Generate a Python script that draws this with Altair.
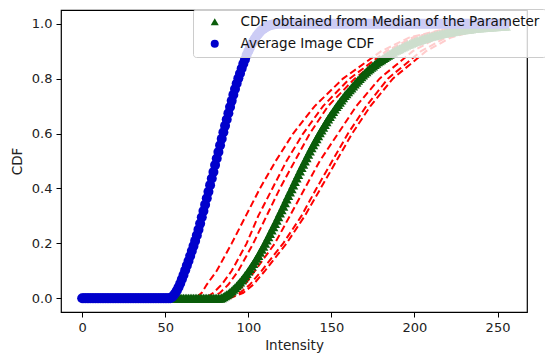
import altair as alt
import pandas as pd

# ---------------- data ----------------
blue_label = "Average Image CDF"
green_label = "CDF obtained from Median of the Parameter"

# Average image CDF, one value per intensity 0..255
blue_zero = [0.0] * 53                      # intensities 0..52
blue_rise = [0.000, 0.004, 0.010, 0.018, 0.028, 0.040, 0.054, 0.069, 0.085, 0.102,
             0.119, 0.136, 0.154, 0.172, 0.190, 0.209, 0.229, 0.250, 0.272, 0.295,
             0.318, 0.341, 0.364, 0.388, 0.412, 0.436, 0.460, 0.485, 0.509, 0.533,
             0.557, 0.581, 0.605, 0.628, 0.651, 0.674, 0.697, 0.719, 0.741, 0.762,
             0.782, 0.801, 0.819, 0.837, 0.854, 0.870, 0.886, 0.900, 0.913, 0.925,
             0.936, 0.946, 0.955, 0.963, 0.970, 0.976, 0.981, 0.985, 0.989, 0.992,
             0.994, 0.996, 0.997, 0.998, 0.999]   # intensities 53..117
blue_cdf = blue_zero + blue_rise
blue_cdf = blue_cdf + [1.0] * (256 - len(blue_cdf))
blue_x = list(range(0, 256))

# CDF from the median parameter, intensities 56..255
green_start = 56
green_zero = [0.0] * 28                     # intensities 56..83
green_rise = [0.002, 0.005, 0.009, 0.013, 0.017, 0.022, 0.027, 0.033, 0.039, 0.045,
              0.052, 0.059, 0.066, 0.074, 0.082, 0.090, 0.099, 0.108, 0.117, 0.126,
              0.136, 0.146, 0.156, 0.167, 0.178, 0.189, 0.200, 0.212, 0.224, 0.236,
              0.248, 0.260, 0.272, 0.284, 0.297, 0.310, 0.322, 0.335, 0.348, 0.361,
              0.374, 0.387, 0.399, 0.412, 0.425, 0.438, 0.451, 0.463, 0.476, 0.488,
              0.500, 0.512, 0.524, 0.536, 0.548, 0.559, 0.570, 0.581, 0.592, 0.603,
              0.613, 0.623, 0.633, 0.643, 0.653, 0.662, 0.671, 0.680, 0.689, 0.698,
              0.706, 0.714, 0.722, 0.730, 0.738, 0.745, 0.752, 0.759, 0.766, 0.773,
              0.780, 0.787, 0.794, 0.800, 0.807, 0.813, 0.819, 0.825, 0.831, 0.836,
              0.841, 0.846, 0.851, 0.856, 0.861, 0.865, 0.869, 0.873, 0.877, 0.881,
              0.885, 0.889, 0.893, 0.896, 0.900, 0.903, 0.906, 0.909, 0.912, 0.915,
              0.918, 0.921, 0.924, 0.926, 0.929, 0.931, 0.934, 0.936, 0.938, 0.940,
              0.942, 0.944, 0.946, 0.948, 0.950, 0.952, 0.954, 0.955, 0.957, 0.958,
              0.960, 0.961, 0.963, 0.964, 0.965, 0.967, 0.968, 0.969, 0.970, 0.971,
              0.972, 0.973, 0.974, 0.975, 0.976, 0.977, 0.978, 0.979, 0.979, 0.980,
              0.981, 0.982, 0.982, 0.983, 0.984, 0.984, 0.985, 0.985, 0.986, 0.986,
              0.987, 0.987, 0.988, 0.988, 0.989, 0.989, 0.990, 0.990, 0.990, 0.991,
              0.991, 0.991]                 # intensities 84..255
green_cdf = green_zero + green_rise
green_x = list(range(green_start, green_start + len(green_cdf)))

# Red dashed CDFs (individual images): intensity reached at each CDF level
red_levels = [0.0, 0.0, 0.02, 0.05, 0.1, 0.2, 0.3, 0.4, 0.5, 0.6, 0.7, 0.8, 0.9, 0.95, 0.98, 0.995]
red_L1 = [0, 68, 72, 75, 81, 90, 98.5, 107, 116.5, 127, 140, 157, 180, 197, 218, 255]
red_L2 = [0, 74, 79, 84, 90, 99, 106, 114.5, 123, 133, 145, 161, 183, 199, 219, 255]
red_L3 = [0, 77, 83, 88, 94, 103, 111, 119, 128, 137, 148, 164, 185, 201, 220, 255]
red_R1 = [0, 85, 92, 98, 104, 116, 125, 134, 143, 154, 165, 179, 199, 214, 232, 255]
red_R2 = [0, 87, 95, 101, 108, 121, 132, 141, 150.5, 160, 171, 184, 204, 219, 237, 255]
red_R3 = [0, 89, 97, 103, 110, 123, 134, 143.5, 153, 162.5, 173.5, 187, 207, 222, 240, 255]

x_ticks = [0, 50, 100, 150, 200, 250]
y_ticks = [0.0, 0.2, 0.4, 0.6, 0.8, 1.0]

# ---------------- tables ----------------
blue_df = pd.DataFrame({"x": blue_x, "y": blue_cdf, "series": blue_label})
green_df = pd.DataFrame({"x": green_x, "y": green_cdf, "series": green_label})

red_rows = []
for name, xs in [("L1", red_L1), ("L2", red_L2), ("L3", red_L3),
                 ("R1", red_R1), ("R2", red_R2), ("R3", red_R3)]:
    for i, (xv, yv) in enumerate(zip(xs, red_levels)):
        red_rows.append({"line": name, "i": i, "x": xv, "y": yv})
red_df = pd.DataFrame(red_rows)

FONT = "DejaVu Sans"

x_enc = alt.X("x:Q", scale=alt.Scale(domain=[-12.75, 267.75], nice=False, zero=False),
              axis=alt.Axis(values=x_ticks, title="Intensity", format="d"))
y_enc = alt.Y("y:Q", scale=alt.Scale(domain=[-0.05, 1.05], nice=False, zero=False),
              axis=alt.Axis(values=y_ticks, title="CDF", format=".1f"))

color_scale = alt.Scale(domain=[green_label, blue_label], range=["#0a5c0a", "#0000cc"])
shape_scale = alt.Scale(domain=[green_label, blue_label], range=["triangle-up", "circle"])

legend = alt.Legend(title=None, orient="none", legendX=132, legendY=-1,
                    fillColor="rgba(255,255,255,0.8)", strokeColor="#cccccc",
                    padding=6, cornerRadius=3, labelFontSize=13.5, labelFont=FONT,
                    labelColor="#111111", symbolSize=65, rowPadding=7,
                    symbolOffset=9, labelOffset=19, symbolStrokeWidth=0,
                    labelLimit=600)

red = alt.Chart(red_df).mark_line(color="#ff0000", strokeDash=[7, 3.5], strokeWidth=2).encode(
    x=x_enc, y=y_enc, detail="line:N", order="i:Q")

green = alt.Chart(green_df).mark_point(filled=True, size=105, opacity=1).encode(
    x=x_enc, y=y_enc,
    color=alt.Color("series:N", scale=color_scale, legend=legend),
    shape=alt.Shape("series:N", scale=shape_scale, legend=legend))

blue = alt.Chart(blue_df).mark_point(filled=True, size=100, opacity=1).encode(
    x=x_enc, y=y_enc,
    color=alt.Color("series:N", scale=color_scale, legend=legend),
    shape=alt.Shape("series:N", scale=shape_scale, legend=legend))

chart = alt.layer(red, green, blue).properties(
    width=466, height=302,
    autosize=alt.AutoSizeParams(type="none"),
    padding={"left": 61, "top": 10, "right": 18, "bottom": 45},
).configure_view(stroke="black", strokeWidth=1.2).configure_axis(
    grid=False, domain=False, tickColor="black", tickSize=5, tickWidth=1,
    labelFont=FONT, labelFontSize=13, labelColor="#222222", labelPadding=4,
    titleFont=FONT, titleFontSize=13.5, titleFontWeight="normal", titleColor="#222222",
).configure_axisX(titlePadding=4).configure_axisY(titlePadding=7)

chart.save("out.html", embed_options={"renderer": "svg", "actions": False})
